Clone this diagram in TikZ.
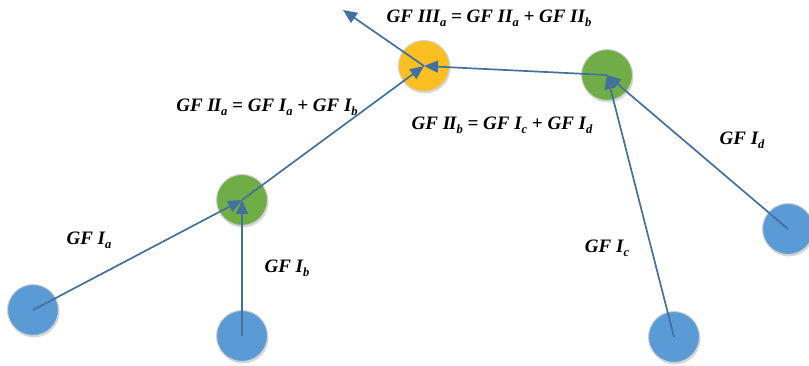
\documentclass[tikz,border=0pt]{standalone}
\usepackage{fontspec}
\setmainfont{Liberation Serif}
\usetikzlibrary{arrows.meta,shadows}
\definecolor{nodeblue}{HTML}{5B9BD5}
\definecolor{nodegreen}{HTML}{70AD47}
\definecolor{nodeyellow}{HTML}{FBBF22}
\definecolor{linkblue}{HTML}{41719C}
\newcommand{\sbs}[1]{\raisebox{-0.45ex}{\fontsize{12.5}{12.5}\selectfont #1}}
\tikzset{
  gf/.style={circle, minimum size=51pt, inner sep=0pt, draw=black!18, line width=1pt,
    drop shadow={shadow xshift=1pt, shadow yshift=-2pt, opacity=0.25, fill=black!60}},
  leaf/.style={gf, fill=nodeblue},
  mid/.style={gf, fill=nodegreen},
  top/.style={gf, fill=nodeyellow},
  link/.style={draw=linkblue, line width=1.7pt, -{Triangle[length=14pt,width=12pt]}},
  lbl/.style={font=\fontsize{19}{19}\selectfont\bfseries\itshape, inner sep=0pt}
}
\begin{document}
\begin{tikzpicture}[x=1pt,y=-1pt]
\useasboundingbox (0,0) rectangle (809,366);
% nodes
\node[leaf] (la) at (33,310) {};
\node[leaf] (lb) at (242,336) {};
\node[leaf] (lc) at (674,337) {};
\node[leaf] (ld) at (788,229) {};
\node[mid] (ma) at (242,200) {};
\node[mid] (mb) at (607,75) {};
\node[top] (t) at (424,66) {};
\coordinate (out) at (343,10);
% connectors
\draw[link] (la.center) -- (ma.center);
\draw[link] (lb.center) -- (ma.center);
\draw[link] (ma.center) -- (t.center);
\draw[link] (lc.center) -- (mb.center);
\draw[link] (ld.center) -- (mb.center);
\draw[link] (mb.center) -- (t.center);
\draw[link] (t.center) -- (out);
% labels
\node[lbl] (e1) at (489,18) {GF III\sbs{a} = GF II\sbs{a} + GF II\sbs{b}};
\node[lbl] (e2) at (267,107) {GF I\kern-1ptI\sbs{a} = GF I\sbs{a} + GF I\sbs{b}};
\node[lbl] (e3) at (502,125) {GF I\kern-1ptI\sbs{b} = GF I\sbs{c} + GF I\sbs{d}};
\node[lbl] (ia) at (89,240) {GF I\sbs{a}};
\node[lbl] (ib) at (287,268) {GF I\sbs{b}};
\node[lbl] (ic) at (607,248) {GF I\sbs{c}};
\node[lbl] (id) at (742,140) {GF I\sbs{d}};
\end{tikzpicture}
\end{document}
